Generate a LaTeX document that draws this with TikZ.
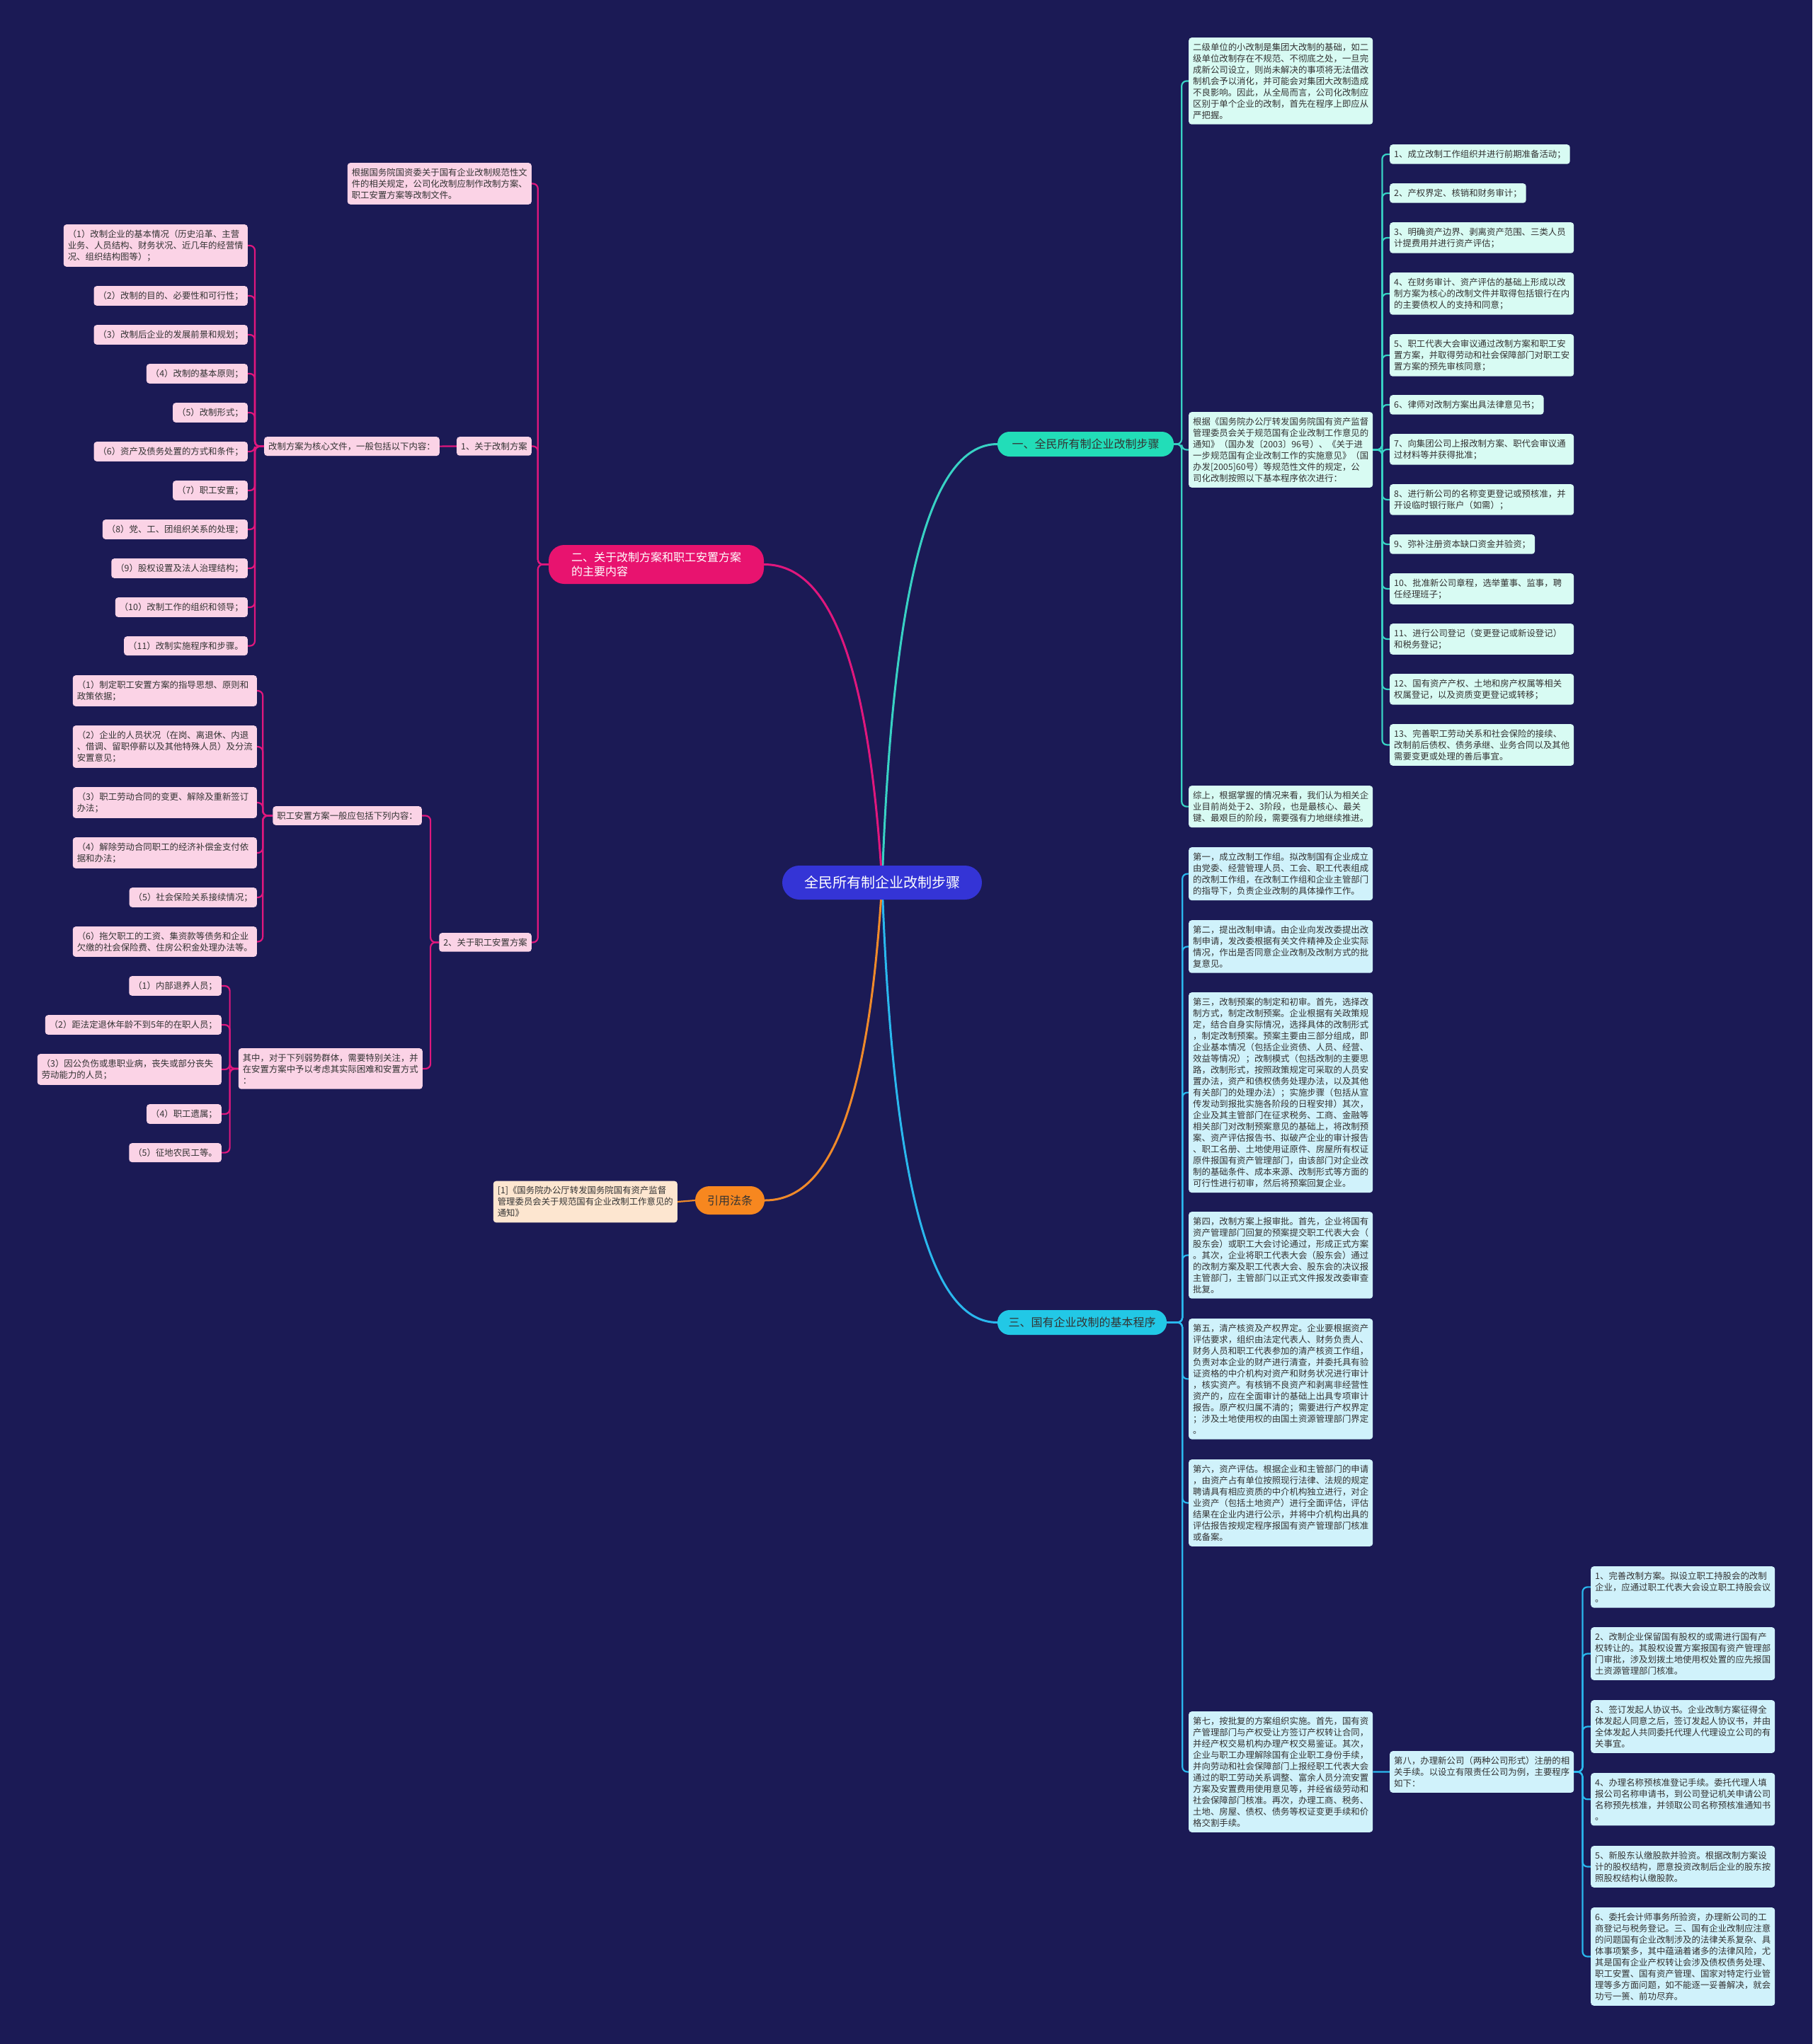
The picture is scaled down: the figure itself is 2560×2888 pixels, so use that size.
\documentclass[tikz,border=0pt]{standalone}
\usepackage{fontspec}
\setmainfont{Noto Sans CJK SC}
\definecolor{bgc}{HTML}{1B1A55}
\definecolor{txtc}{HTML}{333333}
\definecolor{tealc}{HTML}{38D2C4}
\definecolor{mintc}{HTML}{D8FBF3}
\definecolor{tealnode}{HTML}{22DDB8}
\definecolor{cyanc}{HTML}{2AB8EE}
\definecolor{lbluec}{HTML}{D0F2FB}
\definecolor{cyannode}{HTML}{22C8E6}
\definecolor{pinkc}{HTML}{E0177D}
\definecolor{lpinkc}{HTML}{FBD3E6}
\definecolor{pinknode}{HTML}{E8136F}
\definecolor{orangec}{HTML}{F08A2A}
\definecolor{orangenode}{HTML}{F7871F}
\definecolor{peachc}{HTML}{FDE6D0}
\definecolor{rootc}{HTML}{3434D6}
\pgfdeclarelayer{bgl}
\pgfdeclarelayer{lines}
\pgfsetlayers{bgl,lines,main}
\tikzset{
  box/.style={rounded corners=4pt, inner xsep=6pt, inner ysep=7.5pt, align=left, font=\fontsize{12.4}{16}\selectfont, text=txtc},
  wide/.style={text width=248pt},
  mintbox/.style={box, fill=mintc},
  bluebox/.style={box, fill=lbluec},
  pinkbox/.style={box, fill=lpinkc},
  peachbox/.style={box, fill=peachc},
  lnteal/.style={draw=tealc, line width=2.2pt, rounded corners=7pt},
  lncyan/.style={draw=cyanc, line width=2.2pt, rounded corners=7pt},
  lnpink/.style={draw=pinkc, line width=2.2pt, rounded corners=7pt},
  lnorange/.style={draw=orangec, line width=2.2pt},
  branchnode/.style={inner sep=0pt, align=center, font=\fontsize{16}{20}\selectfont}
}
\begin{document}
\begin{tikzpicture}[x=1pt,y=-1pt]
\begin{pgfonlayer}{bgl}
\fill[bgc] (0,0) rectangle (2560,2888);
\end{pgfonlayer}
\useasboundingbox (0,0) rectangle (2560,2888);

% root and branches
\node[branchnode, fill=rootc, text=white, minimum width=282pt, minimum height=48pt, rounded corners=24pt, font=\fontsize{20}{24}\selectfont] (root) at (1246,1247) {全民所有制企业改制步骤};
\node[branchnode, fill=tealnode, text=txtc, minimum width=249pt, minimum height=35pt, rounded corners=17pt] (b1) at (1533.5,627.5) {一、全民所有制企业改制步骤};
\node[branchnode, fill=pinknode, text=white, minimum width=304pt, minimum height=55pt, rounded corners=22pt, align=left] (b2) at (927,797.5) {二、关于改制方案和职工安置方案\\的主要内容};
\node[branchnode, fill=cyannode, text=txtc, minimum width=239pt, minimum height=35pt, rounded corners=17pt] (b3) at (1528.5,1868.5) {三、国有企业改制的基本程序};
\node[branchnode, fill=orangenode, text=txtc, minimum width=98pt, minimum height=40pt, rounded corners=20pt] (b4) at (1031,1696) {引用法条};

% branch one
\node[mintbox, wide, anchor=north west] (t1) at (1679,53) {二级单位的小改制是集团大改制的基础，如二\\级单位改制存在不规范、不彻底之处，一旦完\\成新公司设立，则尚未解决的事项将无法借改\\制机会予以消化，并可能会对集团大改制造成\\不良影响。因此，从全局而言，公司化改制应\\区别于单个企业的改制，首先在程序上即应从\\严把握。};
\node[mintbox, wide, anchor=north west] (t2) at (1679,582) {根据《国务院办公厅转发国务院国有资产监督\\管理委员会关于规范国有企业改制工作意见的\\通知》（国办发〔2003〕96号）、《关于进\\一步规范国有企业改制工作的实施意见》（国\\办发[2005]60号）等规范性文件的规定，公\\司化改制按照以下基本程序依次进行：};
\node[mintbox, wide, anchor=north west] (t3) at (1679,1110) {综上，根据掌握的情况来看，我们认为相关企\\业目前尚处于2、3阶段，也是最核心、最关\\键、最艰巨的阶段，需要强有力地继续推进。};

\node[mintbox, anchor=north west] (s1) at (1963,204) {1、成立改制工作组织并进行前期准备活动；};
\node[mintbox, anchor=north west] (s2) at (1963,259) {2、产权界定、核销和财务审计；};
\node[mintbox, wide, anchor=north west] (s3) at (1963,314) {3、明确资产边界、剥离资产范围、三类人员\\计提费用并进行资产评估；};
\node[mintbox, wide, anchor=north west] (s4) at (1963,385) {4、在财务审计、资产评估的基础上形成以改\\制方案为核心的改制文件并取得包括银行在内\\的主要债权人的支持和同意；};
\node[mintbox, wide, anchor=north west] (s5) at (1963,472) {5、职工代表大会审议通过改制方案和职工安\\置方案，并取得劳动和社会保障部门对职工安\\置方案的预先审核同意；};
\node[mintbox, anchor=north west] (s6) at (1963,558) {6、律师对改制方案出具法律意见书；};
\node[mintbox, wide, anchor=north west] (s7) at (1963,613) {7、向集团公司上报改制方案、职代会审议通\\过材料等并获得批准；};
\node[mintbox, wide, anchor=north west] (s8) at (1963,684) {8、进行新公司的名称变更登记或预核准，并\\开设临时银行账户（如需）；};
\node[mintbox, anchor=north west] (s9) at (1963,755) {9、弥补注册资本缺口资金并验资；};
\node[mintbox, wide, anchor=north west] (s10) at (1963,810) {10、批准新公司章程，选举董事、监事，聘\\任经理班子；};
\node[mintbox, wide, anchor=north west] (s11) at (1963,881) {11、进行公司登记（变更登记或新设登记）\\和税务登记；};
\node[mintbox, wide, anchor=north west] (s12) at (1963,952) {12、国有资产产权、土地和房产权属等相关\\权属登记，以及资质变更登记或转移；};
\node[mintbox, wide, anchor=north west] (s13) at (1963,1023) {13、完善职工劳动关系和社会保险的接续、\\改制前后债权、债务承继、业务合同以及其他\\需要变更或处理的善后事宜。};

% branch two
\node[pinkbox, wide, anchor=north east] (g0) at (751,230) {根据国务院国资委关于国有企业改制规范性文\\件的相关规定，公司化改制应制作改制方案、\\职工安置方案等改制文件。};
\node[pinkbox, anchor=north east] (ga) at (751,617) {1、关于改制方案};
\node[pinkbox, anchor=north east] (ga1) at (621,617) {改制方案为核心文件，一般包括以下内容：};
\node[pinkbox, wide, anchor=north east] (p1) at (350,317) {（1）改制企业的基本情况（历史沿革、主营\\业务、人员结构、财务状况、近几年的经营情\\况、组织结构图等）；};
\node[pinkbox, anchor=north east] (p2) at (350,404) {（2）改制的目的、必要性和可行性；};
\node[pinkbox, anchor=north east] (p3) at (350,459) {（3）改制后企业的发展前景和规划；};
\node[pinkbox, anchor=north east] (p4) at (350,514) {（4）改制的基本原则；};
\node[pinkbox, anchor=north east] (p5) at (350,569) {（5）改制形式；};
\node[pinkbox, anchor=north east] (p6) at (350,624) {（6）资产及债务处置的方式和条件；};
\node[pinkbox, anchor=north east] (p7) at (350,679) {（7）职工安置；};
\node[pinkbox, anchor=north east] (p8) at (350,734) {（8）党、工、团组织关系的处理；};
\node[pinkbox, anchor=north east] (p9) at (350,789) {（9）股权设置及法人治理结构；};
\node[pinkbox, anchor=north east] (p10) at (350,844) {（10）改制工作的组织和领导；};
\node[pinkbox, anchor=north east] (p11) at (350,899) {（11）改制实施程序和步骤。};

\node[pinkbox, anchor=north east] (gb) at (751,1318) {2、关于职工安置方案};
\node[pinkbox, anchor=north east] (gb1) at (596,1139) {职工安置方案一般应包括下列内容：};
\node[pinkbox, wide, anchor=north east] (q1) at (363,954) {（1）制定职工安置方案的指导思想、原则和\\政策依据；};
\node[pinkbox, wide, anchor=north east] (q2) at (363,1025) {（2）企业的人员状况（在岗、离退休、内退\\、借调、留职停薪以及其他特殊人员）及分流\\安置意见；};
\node[pinkbox, wide, anchor=north east] (q3) at (363,1112) {（3）职工劳动合同的变更、解除及重新签订\\办法；};
\node[pinkbox, wide, anchor=north east] (q4) at (363,1183) {（4）解除劳动合同职工的经济补偿金支付依\\据和办法；};
\node[pinkbox, anchor=north east] (q5) at (363,1254) {（5）社会保险关系接续情况；};
\node[pinkbox, wide, anchor=north east] (q6) at (363,1309) {（6）拖欠职工的工资、集资款等债务和企业\\欠缴的社会保险费、住房公积金处理办法等。};

\node[pinkbox, wide, anchor=north east] (gb2) at (597,1481) {其中，对于下列弱势群体，需要特别关注，并\\在安置方案中予以考虑其实际困难和安置方式\\：};
\node[pinkbox, anchor=north east] (r1) at (313,1379) {（1）内部退养人员；};
\node[pinkbox, anchor=north east] (r2) at (313,1434) {（2）距法定退休年龄不到5年的在职人员；};
\node[pinkbox, wide, anchor=north east] (r3) at (313,1489) {（3）因公负伤或患职业病，丧失或部分丧失\\劳动能力的人员；};
\node[pinkbox, anchor=north east] (r4) at (313,1560) {（4）职工遗属；};
\node[pinkbox, anchor=north east] (r5) at (313,1615) {（5）征地农民工等。};

% reference
\node[peachbox, wide, anchor=east] (ref) at (957,1698) {[1]《国务院办公厅转发国务院国有资产监督\\管理委员会关于规范国有企业改制工作意见的\\通知》};

% branch three
\node[bluebox, wide, anchor=north west] (d1) at (1679,1197) {第一，成立改制工作组。拟改制国有企业成立\\由党委、经营管理人员、工会、职工代表组成\\的改制工作组，在改制工作组和企业主管部门\\的指导下，负责企业改制的具体操作工作。};
\node[bluebox, wide, anchor=north west] (d2) at (1679,1300) {第二，提出改制申请。由企业向发改委提出改\\制申请，发改委根据有关文件精神及企业实际\\情况，作出是否同意企业改制及改制方式的批\\复意见。};
\node[bluebox, wide, anchor=north west] (d3) at (1679,1402) {第三，改制预案的制定和初审。首先，选择改\\制方式，制定改制预案。企业根据有关政策规\\定，结合自身实际情况，选择具体的改制形式\\，制定改制预案。预案主要由三部分组成，即\\企业基本情况（包括企业资债、人员、经营、\\效益等情况）；改制模式（包括改制的主要思\\路，改制形式，按照政策规定可采取的人员安\\置办法，资产和债权债务处理办法，以及其他\\有关部门的处理办法）；实施步骤（包括从宣\\传发动到报批实施各阶段的日程安排）其次，\\企业及其主管部门在征求税务、工商、金融等\\相关部门对改制预案意见的基础上，将改制预\\案、资产评估报告书、拟破产企业的审计报告\\、职工名册、土地使用证原件、房屋所有权证\\原件报国有资产管理部门，由该部门对企业改\\制的基础条件、成本来源、改制形式等方面的\\可行性进行初审，然后将预案回复企业。};
\node[bluebox, wide, anchor=north west] (d4) at (1679,1712) {第四，改制方案上报审批。首先，企业将国有\\资产管理部门回复的预案提交职工代表大会（\\股东会）或职工大会讨论通过，形成正式方案\\。其次，企业将职工代表大会（股东会）通过\\的改制方案及职工代表大会、股东会的决议报\\主管部门，主管部门以正式文件报发改委审查\\批复。};
\node[bluebox, wide, anchor=north west] (d5) at (1679,1863) {第五，清产核资及产权界定。企业要根据资产\\评估要求，组织由法定代表人、财务负责人、\\财务人员和职工代表参加的清产核资工作组，\\负责对本企业的财产进行清查，并委托具有验\\证资格的中介机构对资产和财务状况进行审计\\，核实资产。有核销不良资产和剥离非经营性\\资产的，应在全面审计的基础上出具专项审计\\报告。原产权归属不清的；需要进行产权界定\\；涉及土地使用权的由国土资源管理部门界定\\。};
\node[bluebox, wide, anchor=north west] (d6) at (1679,2062) {第六，资产评估。根据企业和主管部门的申请\\，由资产占有单位按照现行法律、法规的规定\\聘请具有相应资质的中介机构独立进行，对企\\业资产（包括土地资产）进行全面评估，评估\\结果在企业内进行公示，并将中介机构出具的\\评估报告按规定程序报国有资产管理部门核准\\或备案。};
\node[bluebox, wide, anchor=north west] (d7) at (1679,2418) {第七，按批复的方案组织实施。首先，国有资\\产管理部门与产权受让方签订产权转让合同，\\并经产权交易机构办理产权交易鉴证。其次，\\企业与职工办理解除国有企业职工身份手续，\\并向劳动和社会保障部门上报经职工代表大会\\通过的职工劳动关系调整、富余人员分流安置\\方案及安置费用使用意见等，并经省级劳动和\\社会保障部门核准。再次，办理工商、税务、\\土地、房屋、债权、债务等权证变更手续和价\\格交割手续。};
\node[bluebox, wide, anchor=north west] (d8) at (1963,2474) {第八，办理新公司（两种公司形式）注册的相\\关手续。以设立有限责任公司为例，主要程序\\如下：};
\node[bluebox, wide, anchor=north west] (e1) at (2247,2213) {1、完善改制方案。拟设立职工持股会的改制\\企业，应通过职工代表大会设立职工持股会议\\。};
\node[bluebox, wide, anchor=north west] (e2) at (2247,2299) {2、改制企业保留国有股权的或需进行国有产\\权转让的。其股权设置方案报国有资产管理部\\门审批，涉及划拨土地使用权处置的应先报国\\土资源管理部门核准。};
\node[bluebox, wide, anchor=north west] (e3) at (2247,2402) {3、签订发起人协议书。企业改制方案征得全\\体发起人同意之后，签订发起人协议书，并由\\全体发起人共同委托代理人代理设立公司的有\\关事宜。};
\node[bluebox, wide, anchor=north west] (e4) at (2247,2505) {4、办理名称预核准登记手续。委托代理人填\\报公司名称申请书，到公司登记机关申请公司\\名称预先核准，并领取公司名称预核准通知书\\。};
\node[bluebox, wide, anchor=north west] (e5) at (2247,2608) {5、新股东认缴股款并验资。根据改制方案设\\计的股权结构，愿意投资改制后企业的股东按\\照股权结构认缴股款。};
\node[bluebox, wide, anchor=north west] (e6) at (2247,2695) {6、委托会计师事务所验资，办理新公司的工\\商登记与税务登记。三、国有企业改制应注意\\的问题国有企业改制涉及的法律关系复杂、具\\体事项繁多，其中蕴涵着诸多的法律风险，尤\\其是国有企业产权转让会涉及债权债务处理、\\职工安置、国有资产管理、国家对特定行业管\\理等多方面问题，如不能逐一妥善解决，就会\\功亏一篑、前功尽弃。};

\begin{pgfonlayer}{lines}
% main curves
\draw[tealc, line width=3pt] (root.center) .. controls (1262,800) and (1320,627.5) .. (b1.west);
\draw[cyanc, line width=3pt] (root.center) .. controls (1262,1700) and (1320,1868.5) .. (b3.west);
\draw[pinkc, line width=3pt] (root.center) .. controls (1225,900) and (1160,797.5) .. (b2.east);
\draw[orangec, line width=3pt] (root.center) .. controls (1225,1600) and (1160,1696) .. (b4.east);
% branch one
\foreach \c in {t1,t2,t3} \draw[lnteal] (b1.east) -- ++(11,0) |- (\c.west);
\foreach \c in {s1,s2,s3,s4,s5,s6,s7,s8,s9,s10,s11,s12,s13} \draw[lnteal] (t2.east) -- ++(13,0) |- (\c.west);
% branch two
\foreach \c in {g0,ga,gb} \draw[lnpink] (b2.west) -- ++(-15,0) |- (\c.east);
\draw[lnpink] (ga.west) -- (ga1.east);
\foreach \c in {p1,p2,p3,p4,p5,p6,p7,p8,p9,p10,p11} \draw[lnpink] (ga1.west) -- ++(-13,0) |- (\c.east);
\foreach \c in {gb1,gb2} \draw[lnpink] (gb.west) -- ++(-12,0) |- (\c.east);
\foreach \c in {q1,q2,q3,q4,q5,q6} \draw[lnpink] (gb1.west) -- ++(-14,0) |- (\c.east);
\foreach \c in {r1,r2,r3,r4,r5} \draw[lnpink] (gb2.west) -- ++(-12,0) |- (\c.east);
% reference
\draw[lnorange] (b4.west) -- (ref.east);
% branch three
\foreach \c in {d1,d2,d3,d4,d5,d6,d7} \draw[lncyan] (b3.east) -- ++(22,0) |- (\c.west);
\draw[lncyan] (d7.east) -- (d8.west);
\foreach \c in {e1,e2,e3,e4,e5,e6} \draw[lncyan] (d8.east) -- ++(12,0) |- (\c.west);
\end{pgfonlayer}
\end{tikzpicture}
\end{document}
